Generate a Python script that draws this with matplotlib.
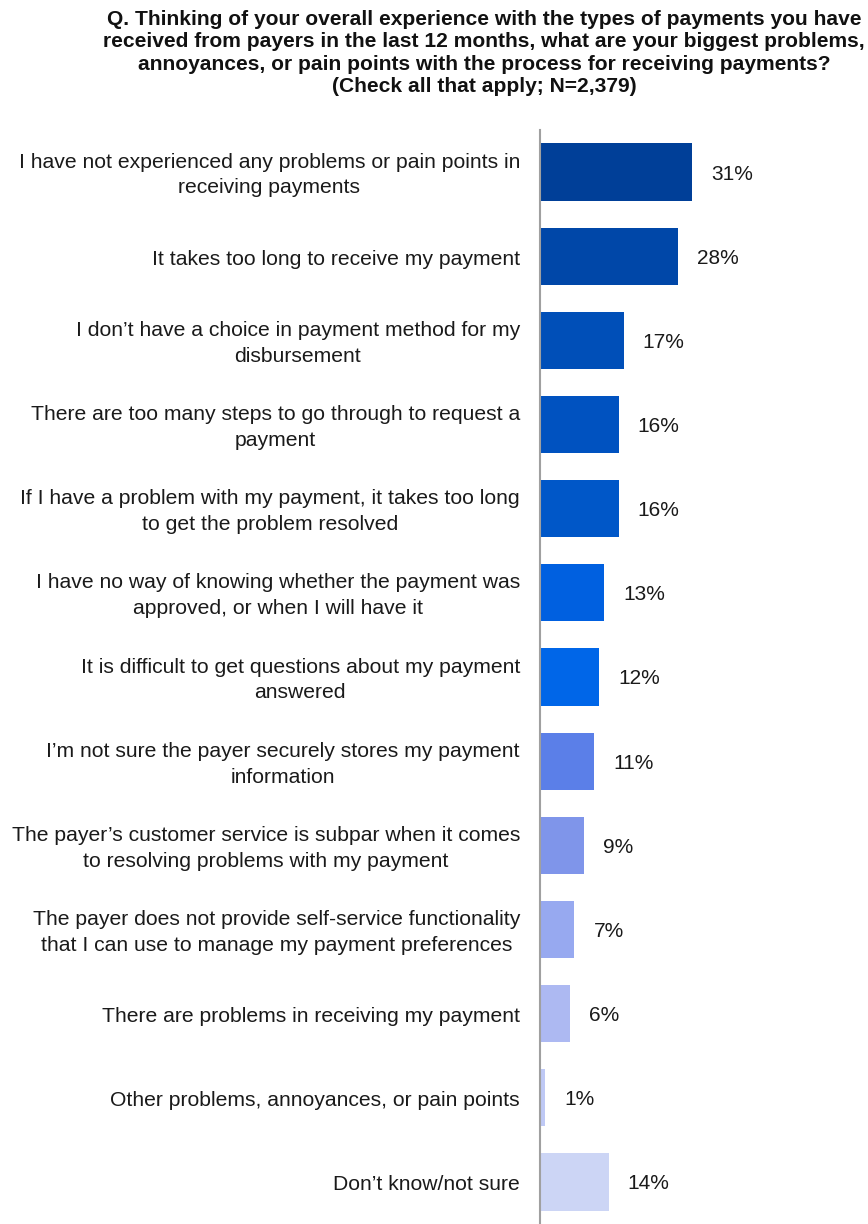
import matplotlib
matplotlib.use("Agg")
import matplotlib.pyplot as plt

categories = [
    "I have not experienced any problems or pain points in\nreceiving payments",
    "It takes too long to receive my payment",
    "I don\u2019t have a choice in payment method for my\ndisbursement",
    "There are too many steps to go through to request a\npayment",
    "If I have a problem with my payment, it takes too long\nto get the problem resolved",
    "I have no way of knowing whether the payment was\napproved, or when I will have it",
    "It is difficult to get questions about my payment\nanswered",
    "I\u2019m not sure the payer securely stores my payment\ninformation",
    "The payer\u2019s customer service is subpar when it comes\nto resolving problems with my payment",
    "The payer does not provide self-service functionality\nthat I can use to manage my payment preferences",
    "There are problems in receiving my payment",
    "Other problems, annoyances, or pain points",
    "Don\u2019t know/not sure",
]
values = [31, 28, 17, 16, 16, 13, 12, 11, 9, 7, 6, 1, 14]
colors = [
    "#003f98", "#0047a8", "#004fb8", "#0052c0", "#0057c8", "#0060e0",
    "#0066e8", "#5b7fe8", "#7f95ea", "#97a9f0", "#adb9f2", "#bfc9f5", "#ccd5f5",
]
title = ("Q. Thinking of your overall experience with the types of payments you have\n"
         "received from payers in the last 12 months, what are your biggest problems,\n"
         "annoyances, or pain points with the process for receiving payments?\n"
         "(Check all that apply; N=2,379)")

plt.rcParams["font.family"] = ["Liberation Sans", "DejaVu Sans"]

W, H = 868, 1224
fig = plt.figure(figsize=(W / 100, H / 100), dpi=100)
ax = fig.add_axes([540 / W, 0, 1 - 540 / W, (1224 - 130) / H])

y = list(range(len(values)))
ax.barh(y, values, height=0.68, color=colors)
ax.set_ylim(len(values) - 0.5, -0.5)
ax.set_xlim(0, 66.7)

for yi, v in zip(y, values):
    ax.annotate(f"{v}%", xy=(v, yi), xytext=(19, -2), textcoords="offset pixels",
                ha="left", va="center", fontsize=15, color="#1a1a1a")
    ax.annotate(categories[yi], xy=(0, yi), xytext=(-20, -3), textcoords="offset pixels",
                ha="right", va="center", multialignment="center",
                fontsize=15.2, color="#1a1a1a", linespacing=1.45)

for s in ["top", "right", "bottom"]:
    ax.spines[s].set_visible(False)
ax.spines["left"].set_color("#a0a0a0")
ax.spines["left"].set_linewidth(1.5)
ax.set_xticks([])
ax.set_yticks([])

fig.text(484 / W, 1 - 10 / H, title, ha="center", va="top", fontsize=15.1,
         fontweight="bold", linespacing=1.22, color="#111111")

fig.savefig("out.png", dpi=100)
